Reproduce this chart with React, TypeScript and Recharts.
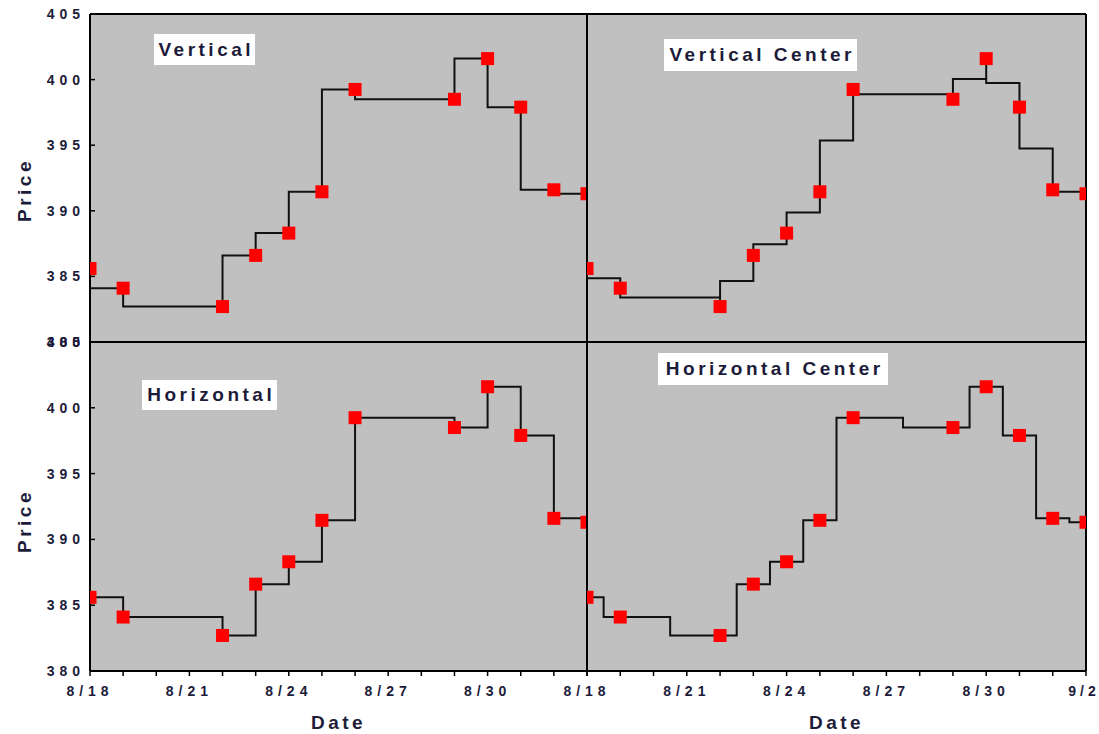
import React from 'react';
import { LineChart, Line, XAxis, YAxis, CartesianGrid, ReferenceLine } from 'recharts';

// trading days and closing prices
const dates = ['8/18', '8/19', '8/22', '8/23', '8/24', '8/25', '8/26', '8/29', '8/30', '8/31', '9/1', '9/2'];
const prices = [385.6, 384.1, 382.7, 386.6, 388.3, 391.45, 399.25, 398.5, 401.6, 397.9, 391.6, 391.3];

// x axis is in days since 8/18
const dayTicks = [0, 1, 2, 3, 4, 5, 6, 7, 8, 9, 10, 11, 12, 13, 14, 15];
const dayLabels = ['8/18', '', '', '8/21', '', '', '8/24', '', '', '8/27', '', '', '8/30', '', '', '9/2'];
const topTicks = [3, 6, 9, 12];
const priceTicks = [380, 385, 390, 395, 400, 405];

const toDay = (d: string) => {
  const [m, day] = d.split('/').map(Number);
  return Math.round((new Date(2000, m - 1, day).getTime() - new Date(2000, 7, 18).getTime()) / 86400000);
};

const data = dates.map((d, i) => ({ day: toDay(d), price: prices[i] }));

const FONT = "'Liberation Sans', Arial, Helvetica, sans-serif";
const INK = '#1c1c3a';

const PLOT_LEFT = 90;
const SPLIT_X = 587;
const PLOT_RIGHT = 1086;
const PLOT_TOP = 14;
const SPLIT_Y = 342;
const PLOT_BOTTOM = 671;
const PAGE_H = 734;
const PAD = 10;
const SIDE_PAD = 30;
const Y_TICK_GAP = 5;

// "Vertical Center": vertical half-step, horizontal run, vertical half-step
class VerticalCenterCurve {
  ctx: any;
  x0 = NaN;
  y0 = NaN;
  started = false;
  constructor(ctx: any) {
    this.ctx = ctx;
  }
  areaStart() {}
  areaEnd() {}
  lineStart() {
    this.started = false;
  }
  lineEnd() {}
  point(x: number, y: number) {
    x = +x;
    y = +y;
    if (!this.started) {
      this.ctx.moveTo(x, y);
      this.started = true;
    } else {
      const ym = (this.y0 + y) / 2;
      this.ctx.lineTo(this.x0, ym);
      this.ctx.lineTo(x, ym);
      this.ctx.lineTo(x, y);
    }
    this.x0 = x;
    this.y0 = y;
  }
}
const curveVerticalCenter = (ctx: any) => new VerticalCenterCurve(ctx);

const Square = (props: any) => {
  const { cx, cy, index } = props;
  if (cx == null || cy == null) return <g key={`sq-${index}`} />;
  return <rect key={`sq-${index}`} x={cx - 6.5} y={cy - 6.5} width={13} height={13} fill="#ff0000" />;
};

const PriceTick = (props: any) => {
  const { x, y, payload } = props;
  return (
    <g>
      <line x1={x + Y_TICK_GAP} y1={y} x2={x + Y_TICK_GAP + 5} y2={y} stroke="#000" strokeWidth={1.5} />
      <text
        x={x}
        y={y}
        dy="0.36em"
        textAnchor="end"
        fill={INK}
        fontSize={14}
        fontWeight="bold"
        fontFamily={FONT}
        style={{ letterSpacing: '5px' }}
      >
        {payload.value}
      </text>
    </g>
  );
};

const makeDayTick = (hideLast: boolean) => (props: any) => {
  const { x, y, payload } = props;
  const isLast = payload.value === 15;
  const label = hideLast && isLast ? '' : dayLabels[payload.value];
  return (
    <text
      x={isLast ? x - 2 : x}
      y={y}
      dy="0.71em"
      textAnchor="middle"
      fill={INK}
      fontSize={14}
      fontWeight="bold"
      fontFamily={FONT}
      style={{ letterSpacing: isLast ? '4px' : '5px' }}
    >
      {label}
    </text>
  );
};

interface PanelProps {
  col: number;
  row: number;
  curve: any;
}

function Panel({ col, row, curve }: PanelProps) {
  const isLeft = col === 0;
  const isTop = row === 0;
  const plotW = isLeft ? SPLIT_X - PLOT_LEFT : PLOT_RIGHT - SPLIT_X;
  const plotH = isTop ? SPLIT_Y - PLOT_TOP : PLOT_BOTTOM - SPLIT_Y;
  const yAxisW = isLeft ? PLOT_LEFT : 0;
  const xAxisH = isTop ? 0 : PAGE_H - PLOT_BOTTOM;
  const margin = {
    top: isTop ? PLOT_TOP : PAD,
    right: isLeft ? PAD : SIDE_PAD,
    bottom: isTop ? PAD : 0,
    left: isLeft ? 0 : SIDE_PAD,
  };
  const width = margin.left + yAxisW + plotW + margin.right;
  const height = margin.top + plotH + xAxisH + margin.bottom;
  const left = isLeft ? 0 : SPLIT_X - SIDE_PAD;
  const top = isTop ? 0 : SPLIT_Y - PAD;

  return (
    <div style={{ position: 'absolute', left, top }}>
      <LineChart width={width} height={height} data={data} margin={margin}>
        <CartesianGrid fill="#c0c0c0" stroke="none" horizontal={false} vertical={false} />
        {isTop ? (
          <XAxis
            dataKey="day"
            type="number"
            domain={[0, 15]}
            allowDataOverflow
            orientation="top"
            mirror
            ticks={topTicks}
            interval={0}
            tick={false}
            tickSize={4}
            tickLine={{ stroke: '#000', strokeWidth: 1.5 }}
            axisLine={{ stroke: '#000', strokeWidth: 2 }}
          />
        ) : (
          <XAxis
            dataKey="day"
            type="number"
            domain={[0, 15]}
            allowDataOverflow
            ticks={dayTicks}
            interval={0}
            height={xAxisH}
            tickSize={5}
            tickMargin={10}
            tick={makeDayTick(isLeft)}
            tickLine={{ stroke: '#000', strokeWidth: 1.5 }}
            axisLine={{ stroke: '#000', strokeWidth: 2 }}
            label={{
              value: 'Date',
              position: 'insideBottom',
              offset: 5,
              fill: INK,
              fontSize: 19,
              fontWeight: 'bold',
              fontFamily: FONT,
              style: { letterSpacing: '3.5px' },
            }}
          />
        )}
        {isLeft ? (
          <YAxis
            type="number"
            domain={[380, 405]}
            ticks={priceTicks}
            interval={0}
            width={yAxisW}
            tickSize={0}
            tickMargin={Y_TICK_GAP}
            tickLine={false}
            tick={<PriceTick />}
            axisLine={{ stroke: '#000', strokeWidth: 2 }}
          />
        ) : (
          <YAxis type="number" domain={[380, 405]} hide />
        )}
        {!isTop && <ReferenceLine y={405} stroke="#000" strokeWidth={2} />}
        {!isLeft && <ReferenceLine x={0} stroke="#000" strokeWidth={2} />}
        {!isLeft && <ReferenceLine x={15} stroke="#000" strokeWidth={2} />}
        <Line
          dataKey="price"
          type={curve}
          stroke="#111"
          strokeWidth={2}
          dot={Square}
          activeDot={false}
          isAnimationActive={false}
        />
      </LineChart>
    </div>
  );
}

const titleStyle: React.CSSProperties = {
  position: 'absolute',
  background: '#fff',
  color: INK,
  fontFamily: FONT,
  fontWeight: 'bold',
  fontSize: 19,
  letterSpacing: '3.5px',
  paddingLeft: 3.5,
  display: 'flex',
  alignItems: 'center',
  justifyContent: 'center',
  whiteSpace: 'nowrap',
  boxSizing: 'border-box',
};

const priceStyle: React.CSSProperties = {
  position: 'absolute',
  color: INK,
  fontFamily: FONT,
  fontWeight: 'bold',
  fontSize: 19,
  letterSpacing: '3.5px',
  lineHeight: 1,
  whiteSpace: 'nowrap',
};

export default function App() {
  return (
    <div
      style={{
        position: 'absolute',
        left: 0,
        top: 0,
        width: 1099,
        height: 734,
        overflow: 'hidden',
        background: '#fff',
      }}
    >
      <Panel col={0} row={0} curve="stepBefore" />
      <Panel col={1} row={0} curve={curveVerticalCenter} />
      <Panel col={0} row={1} curve="stepAfter" />
      <Panel col={1} row={1} curve="step" />

      <div style={{ ...titleStyle, left: 154, top: 34, width: 101, height: 31 }}>Vertical</div>
      <div style={{ ...titleStyle, left: 664, top: 39, width: 193, height: 32 }}>Vertical Center</div>
      <div style={{ ...titleStyle, left: 142, top: 380, width: 135, height: 30 }}>Horizontal</div>
      <div style={{ ...titleStyle, left: 658, top: 353, width: 230, height: 32 }}>Horizontal Center</div>

      <div style={{ ...priceStyle, left: 24, top: 190, transform: 'translate(-50%, -50%) rotate(-90deg)' }}>Price</div>
      <div style={{ ...priceStyle, left: 24, top: 521, transform: 'translate(-50%, -50%) rotate(-90deg)' }}>Price</div>
    </div>
  );
}
